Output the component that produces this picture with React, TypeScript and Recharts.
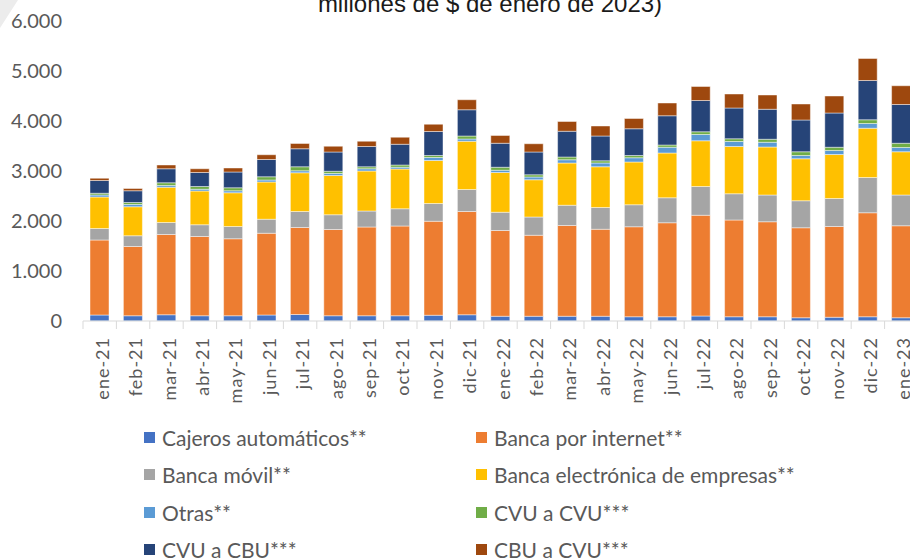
import { BarChart, Bar, XAxis, YAxis } from 'recharts';

const months = [
  'ene-21', 'feb-21', 'mar-21', 'abr-21', 'may-21', 'jun-21', 'jul-21', 'ago-21', 'sep-21',
  'oct-21', 'nov-21', 'dic-21', 'ene-22', 'feb-22', 'mar-22', 'abr-22', 'may-22', 'jun-22',
  'jul-22', 'ago-22', 'sep-22', 'oct-22', 'nov-22', 'dic-22', 'ene-23',
];

// valores (millones de $ de enero de 2023)
const cajeros = [120, 105, 125, 105, 105, 120, 130, 105, 105, 105, 115, 125, 95, 95, 95, 95, 85, 85, 100, 85, 85, 65, 75, 85, 65];
const bancaInternet = [1500, 1385, 1605, 1585, 1540, 1635, 1740, 1725, 1775, 1795, 1880, 2065, 1715, 1620, 1815, 1740, 1800, 1880, 2015, 1935, 1900, 1800, 1815, 2080, 1840];
const bancaMovil = [230, 215, 240, 235, 245, 280, 320, 295, 320, 345, 355, 440, 365, 365, 405, 435, 440, 500, 575, 525, 535, 540, 560, 705, 615];
const bancaEmpresas = [630, 580, 705, 675, 675, 745, 775, 785, 800, 795, 860, 965, 795, 745, 845, 815, 855, 895, 915, 945, 960, 840, 880, 985, 865];
const otras = [40, 45, 35, 35, 40, 40, 40, 40, 45, 35, 60, 45, 45, 55, 65, 75, 85, 115, 125, 100, 95, 65, 80, 95, 85];
const cvuACvu = [35, 40, 55, 55, 60, 65, 80, 45, 40, 45, 40, 60, 60, 45, 55, 45, 45, 45, 55, 55, 60, 75, 65, 75, 85];
const cvuACbu = [255, 235, 280, 280, 315, 345, 360, 385, 405, 415, 480, 525, 480, 455, 515, 495, 535, 585, 625, 615, 600, 635, 685, 785, 775];
const cbuACvu = [45, 45, 75, 75, 80, 95, 105, 115, 105, 140, 145, 200, 155, 165, 195, 200, 205, 255, 280, 280, 285, 320, 340, 440, 375];

const yTicks = [0, 1000, 2000, 3000, 4000, 5000, 6000];

const series = [
  { key: 'cajeros', name: 'Cajeros automáticos**', color: '#4472C4', values: cajeros },
  { key: 'internet', name: 'Banca por internet**', color: '#ED7D31', values: bancaInternet },
  { key: 'movil', name: 'Banca móvil**', color: '#A5A5A5', values: bancaMovil },
  { key: 'empresas', name: 'Banca electrónica de empresas**', color: '#FFC000', values: bancaEmpresas },
  { key: 'otras', name: 'Otras**', color: '#5B9BD5', values: otras },
  { key: 'cvuCvu', name: 'CVU a CVU***', color: '#70AD47', values: cvuACvu },
  { key: 'cvuCbu', name: 'CVU a CBU***', color: '#264478', values: cvuACbu },
  { key: 'cbuCvu', name: 'CBU a CVU***', color: '#9E480E', values: cbuACvu },
];

const data = months.map((m, i) => {
  const row: Record<string, string | number> = { month: m };
  series.forEach((s) => { row[s.key] = s.values[i]; });
  return row;
});

const CHART_W = 918;
const Y_AXIS_W = 83;
const STEP = (CHART_W - Y_AXIS_W) / months.length;
const TEXT = '#595959';
const FONT = 'Lato, "Noto Sans", sans-serif';

const fmt = (v: number) => v.toString().replace(/\B(?=(\d{3})+(?!\d))/g, '.');

// eslint-disable-next-line @typescript-eslint/no-explicit-any
function MonthTick({ x, y, payload }: any) {
  return (
    <g>
      <line x1={x - STEP / 2} y1={y} x2={x - STEP / 2} y2={y + 8} stroke="#d9d9d9" />
      <text
        transform={`translate(${x + 9},${y + 16}) rotate(-90)`}
        textAnchor="end"
        fill={TEXT}
        fontSize={18}
        letterSpacing={1}
        fontFamily={FONT}
      >
        {payload.value}
      </text>
    </g>
  );
}

export default function App() {
  return (
    <div style={{ position: 'absolute', left: 0, top: 0, width: 910, height: 558, overflow: 'hidden', background: '#fff' }}>
      <svg width={910} height={40} style={{ position: 'absolute', left: 0, top: 0 }}>
        <polygon points="0,0 18,0 0,28" fill="#ececec" />
        <text x={490} y={12} textAnchor="middle" fontSize={24} fill="#1a1a1a" fontFamily='"Liberation Sans", Arial, sans-serif'>
          millones de $ de enero de 2023)
        </text>
      </svg>

      <BarChart
        width={CHART_W}
        height={558}
        data={data}
        margin={{ top: 21, right: 0, bottom: 137, left: 0 }}
        barSize={19}
        style={{ position: 'absolute', left: 0, top: 0 }}
      >
        <XAxis
          dataKey="month"
          axisLine={{ stroke: '#d9d9d9' }}
          tickLine={false}
          tickSize={0}
          tickMargin={0}
          interval={0}
          height={100}
          tick={<MonthTick />}
        />
        <YAxis
          domain={[0, 6000]}
          ticks={yTicks}
          width={Y_AXIS_W}
          axisLine={false}
          tickLine={false}
          tickSize={0}
          tickMargin={21}
          tickFormatter={fmt}
          tick={{ fill: TEXT, fontSize: 20, fontFamily: FONT }}
        />
        {series.map((s) => (
          <Bar
            key={s.key}
            dataKey={s.key}
            name={s.name}
            stackId="a"
            fill={s.color}
            stroke="#ffffff"
            strokeOpacity={0.6}
            strokeWidth={0.75}
            isAnimationActive={false}
          />
        ))}
      </BarChart>

      {series.map((s, i) => {
        const col = i % 2;
        const row = Math.floor(i / 2);
        return (
          <div
            key={s.key}
            style={{
              position: 'absolute',
              left: col ? 476 : 144,
              top: 437 + row * 37.5 - 14,
              height: 28,
              display: 'flex',
              alignItems: 'center',
              gap: 7,
              fontFamily: FONT,
              fontSize: 21,
              color: TEXT,
              whiteSpace: 'nowrap',
            }}
          >
            <span style={{ width: 11, height: 11, background: s.color, display: 'inline-block' }} />
            {s.name}
          </div>
        );
      })}
    </div>
  );
}
